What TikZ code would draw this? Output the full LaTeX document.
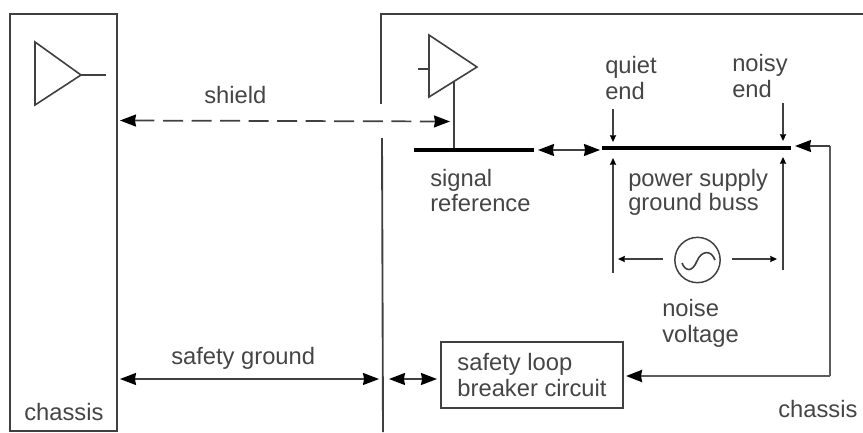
\documentclass[tikz,border=0pt]{standalone}
\usepackage{fontspec}
\setmainfont{Liberation Sans}
\usetikzlibrary{arrows.meta}
\definecolor{ink}{gray}{0.25}
\definecolor{txt}{gray}{0.27}
\tikzset{
  x=0.75pt,y=-0.75pt,
  wire/.style={draw=ink,line width=1.2pt,line join=miter},
  thick wire/.style={draw=ink!85,line width=1.9pt},
  bar/.style={draw=black,line width=3.6pt},
  bigtip/.style={{Stealth[inset=0.8pt,length=12pt,width=9pt,color=black]}-{Stealth[inset=0.8pt,length=12pt,width=9pt,color=black]}},
  bigend/.style={-{Stealth[inset=0.8pt,length=12pt,width=9pt,color=black]}},
  smallend/.style={-{Stealth[inset=0.3pt,length=5pt,width=4.5pt,color=black]}},
  label/.style={text=txt,font=\fontsize{17.8}{19}\selectfont,inner sep=0pt,anchor=base west},
  breaker/.style={draw=ink,line width=1.3pt,text=txt,font=\fontsize{17.8}{19}\selectfont,minimum width=136.5pt,minimum height=49.5pt,inner sep=0pt,align=left},
  shield line/.style={draw=ink,line width=1.3pt,dash pattern=on 15pt off 6.4pt}
}
\begin{document}
\begin{tikzpicture}
\useasboundingbox (0,0) rectangle (863,432);
% coordinates
\coordinate (rTop) at (863,14); \coordinate (rCorner) at (381,14);
\coordinate (rGapA) at (381,104); \coordinate (rGapB) at (382,138); \coordinate (rBot) at (383,432);
\coordinate (ampLa) at (35,42); \coordinate (ampLb) at (35,105); \coordinate (ampLc) at (81,75); \coordinate (ampLout) at (106,75);
\coordinate (ampRa) at (429,35); \coordinate (ampRb) at (429,97); \coordinate (ampRc) at (477,67); \coordinate (ampRin) at (418,69); \coordinate (ampRinE) at (429,69);
\coordinate (ampRgnd) at (454,82); \coordinate (sigA) at (414,150); \coordinate (sigB) at (534,150); \coordinate (sigTap) at (454,150);
\coordinate (pwrA) at (602,148); \coordinate (pwrB) at (791,148);
\coordinate (shieldL) at (120,120.5); \coordinate (shieldR) at (450,121.5);
\coordinate (sigOut) at (538,150); \coordinate (pwrIn) at (600,150);
\coordinate (qTop) at (613,109); \coordinate (qTip) at (613,142);
\coordinate (nTop) at (783,103); \coordinate (nTip) at (783,141);
\coordinate (qBot) at (613,273); \coordinate (qUp) at (613,158);
\coordinate (nBot) at (783,270); \coordinate (nUp) at (783,157);
\coordinate (hL) at (618,259); \coordinate (hR) at (777,259);
\coordinate (hLs) at (663,259); \coordinate (hRs) at (732,259);
\coordinate (chTip) at (795,146); \coordinate (chC1) at (830,146); \coordinate (chC2) at (830,376); \coordinate (chEnd) at (626,376);
\coordinate (sgL) at (120,379); \coordinate (sgR) at (379,379);
\coordinate (brL) at (389,379); \coordinate (brR) at (437,379);
% chassis
\node[draw=ink,line width=1.3pt,inner sep=0pt,minimum width=80.25pt,minimum height=312.75pt] (leftbox) at (63.5,222.5) {};
\draw[wire,line width=1.4pt] (rGapA) -- (rCorner) -- (rTop);
\draw[wire,line width=1.4pt] (rGapB) -- (rBot);
% amplifiers
\draw[wire] (ampLa) -- (ampLc) -- (ampLb) -- cycle;
\draw[wire] (ampLc) -- (ampLout);
\draw[wire] (ampRa) -- (ampRc) -- (ampRb) -- cycle;
\draw[wire] (ampRin) -- (ampRinE);
\draw[wire] (ampRgnd) -- (sigTap);
% bars
\draw[bar] (sigA) -- (sigB);
\draw[bar] (pwrA) -- (pwrB);
% connectors
\draw[shield line,bigtip] (shieldL) -- (shieldR);
\draw[wire,bigtip] (sigOut) -- (pwrIn);
\draw[wire,smallend] (qTop) -- (qTip);
\draw[wire,smallend] (nTop) -- (nTip);
\draw[wire,smallend] (qBot) -- (qUp);
\draw[wire,smallend] (nBot) -- (nUp);
\node[draw=ink,line width=1.1pt,circle,minimum size=34pt,inner sep=0pt] (source) at (697.5,260) {};
\draw[wire,smallend] (hLs) -- (hL);
\draw[wire,smallend] (hRs) -- (hR);
\draw[wire] (682,263) .. controls (685,271) and (692,273) .. (697,261) .. controls (701,251) and (711,249) .. (715,260);
\node[breaker] (brk) at (532,375) {safety loop\\breaker circuit};
\draw[thick wire] (chC1) -- (chC2);
\draw[thick wire,bigend] (chC2) -- (chEnd);
\draw[wire,bigend] (chC1) -- (chTip);
\draw[wire,bigtip] (sgL) -- (sgR);
\draw[wire,bigtip] (brL) -- (brR);
% labels
\node[label] (tShield) at (204,103) {shield};
\node[label] (tQ1) at (605,73) {quiet};
\node[label] (tQ2) at (605,99) {end};
\node[label] (tN1) at (732,71) {noisy};
\node[label] (tN2) at (732,97) {end};
\node[label] (tS1) at (430,186) {signal};
\node[label] (tS2) at (430,211) {reference};
\node[label] (tP1) at (628,186) {power supply};
\node[label] (tP2) at (628,210) {ground buss};
\node[label] (tV1) at (662,316) {noise};
\node[label] (tV2) at (662,342) {voltage};
\node[label] (tSG) at (171,364) {safety ground};
\node[label] (tCL) at (24,420) {chassis};
\node[label] (tCR) at (778,417) {chassis};
\end{tikzpicture}
\end{document}
